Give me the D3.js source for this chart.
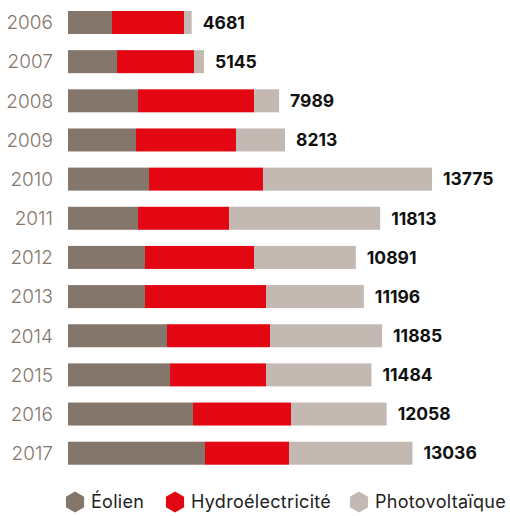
<!DOCTYPE html>
<html>
<head>
<meta charset="utf-8">
<script src="https://cdn.jsdelivr.net/npm/d3@7.9.0/dist/d3.min.js"></script>
<style>
  body { margin: 0; background: #fff; }
  svg { display: block; font-family: Inter, "Open Sans", sans-serif; }
</style>
</head>
<body>
<svg id="chart" width="510" height="516"></svg>
<script>
// data (MW)
const years = ['2006','2007','2008','2009','2010','2011','2012','2013','2014','2015','2016','2017'];
const eolien = [1665, 1855, 2650, 2574, 3066, 2650, 2914, 2914, 3747, 3861, 4731, 5185];
const hydro = [2725, 2914, 4391, 3785, 4315, 3444, 4126, 4580, 3899, 3634, 3709, 3179];
const photo = [291, 376, 948, 1854, 6394, 5719, 3851, 3702, 4239, 3989, 3618, 4672];
const totals = [4681, 5145, 7989, 8213, 13775, 11813, 10891, 11196, 11885, 11484, 12058, 13036];

const seriesNames = ['Éolien', 'Hydroélectricité', 'Photovoltaïque'];
const colors = ['#85766c', '#e30613', '#c3b8b2'];

const rows = years.map((y, i) => ({
  year: y,
  'Éolien': eolien[i],
  'Hydroélectricité': hydro[i],
  'Photovoltaïque': photo[i],
  total: totals[i]
}));

const svg = d3.select('#chart');

const x = d3.scaleLinear()
  .domain([0, 13775])
  .range([68, 432]);

const y = d3.scaleBand()
  .domain(years)
  .range([11, 464.7])
  .paddingInner(0.4125)
  .paddingOuter(0);

const stack = d3.stack().keys(seriesNames);
const stacked = stack(rows);

svg.append('g')
  .selectAll('g')
  .data(stacked)
  .join('g')
  .attr('fill', (d, i) => colors[i])
  .selectAll('rect')
  .data(d => d)
  .join('rect')
  .attr('x', d => x(d[0]))
  .attr('y', d => y(d.data.year))
  .attr('width', d => x(d[1]) - x(d[0]))
  .attr('height', y.bandwidth());

// year labels
svg.append('g')
  .selectAll('text')
  .data(rows)
  .join('text')
  .attr('x', 53)
  .attr('y', d => y(d.year) + y.bandwidth() / 2)
  .attr('dy', '0.36em')
  .attr('text-anchor', 'end')
  .attr('font-size', 19)
  .attr('font-weight', 300)
  .attr('fill', '#85766c')
  .text(d => d.year);

// totals
svg.append('g')
  .selectAll('text')
  .data(rows)
  .join('text')
  .attr('x', d => x(d['Éolien'] + d['Hydroélectricité'] + d['Photovoltaïque']) + 11)
  .attr('y', d => y(d.year) + y.bandwidth() / 2)
  .attr('dy', '0.36em')
  .attr('font-size', 17.5)
  .attr('font-weight', 700)
  .attr('fill', '#111')
  .text(d => d.total);

// legend
const hex = r => d3.range(6).map(k => {
  const a = Math.PI / 3 * k - Math.PI / 2;
  return [r * Math.cos(a), r * Math.sin(a)];
});
const legendPos = [75, 175, 359];
const legend = svg.append('g')
  .selectAll('g')
  .data(seriesNames)
  .join('g')
  .attr('transform', (d, i) => `translate(${legendPos[i]},502)`);

legend.append('polygon')
  .attr('points', hex(10.5).join(' '))
  .attr('fill', (d, i) => colors[i]);

legend.append('text')
  .attr('x', 16)
  .attr('dy', '0.36em')
  .attr('font-size', 18)
  .attr('letter-spacing', 0.3)
  .attr('fill', '#222')
  .text(d => d);
</script>
</body>
</html>
